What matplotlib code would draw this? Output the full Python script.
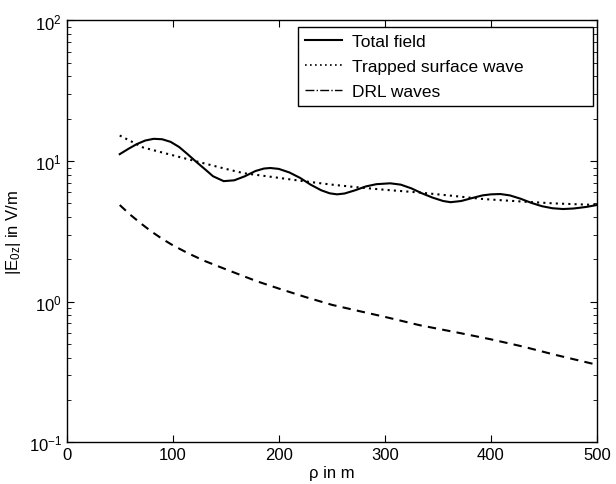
import matplotlib
matplotlib.use('Agg')
import matplotlib.pyplot as plt
from matplotlib.lines import Line2D

plt.rcParams['font.family'] = ['Liberation Sans', 'DejaVu Sans']
plt.rcParams['mathtext.default'] = 'regular'

# total field
rho_tot = [50, 58, 66, 74, 82, 90, 98, 106, 114, 122, 130, 138, 148, 158, 168, 178, 186, 192,
           200, 210, 220, 230, 240, 248, 255, 262, 272, 282, 292, 305, 315, 325, 335, 345,
           355, 362, 372, 382, 392, 400, 409, 418, 428, 438, 448, 458, 468, 478, 490, 500]
e_tot = [11.2, 12.2, 13.2, 14.0, 14.4, 14.3, 13.7, 12.6, 11.2, 9.9, 8.8, 7.8, 7.2, 7.3, 7.8,
         8.5, 8.85, 8.93, 8.8, 8.3, 7.6, 6.8, 6.2, 5.9, 5.8, 5.88, 6.2, 6.6, 6.85, 6.95, 6.8,
         6.4, 5.9, 5.5, 5.2, 5.1, 5.2, 5.45, 5.7, 5.8, 5.83, 5.7, 5.4, 5.05, 4.78, 4.62, 4.56,
         4.6, 4.72, 4.87]

# trapped surface wave
rho_sw = [50, 72, 100, 119, 150, 167, 200, 223, 250, 275, 300, 330, 360, 393, 430, 460, 500]
e_sw = [15.2, 12.5, 11.0, 10.1, 8.8, 8.2, 7.6, 7.2, 6.8, 6.5, 6.25, 6.0, 5.7, 5.37, 5.15, 5.0, 4.87]

# DRL waves
rho_drl = [50, 60, 70, 80, 90, 100, 115, 130, 150, 179, 200, 225, 250, 275, 300, 333, 370,
           400, 430, 460, 500]
e_drl = [4.87, 4.15, 3.6, 3.15, 2.8, 2.52, 2.2, 1.95, 1.7, 1.40, 1.24, 1.08, 0.95, 0.86, 0.78,
         0.68, 0.6, 0.54, 0.48, 0.42, 0.356]

fig = plt.figure(figsize=(6.16, 4.85), dpi=100)
ax = fig.add_axes([0.1083, 0.086, 0.8607, 0.8697])

ax.plot(rho_tot, e_tot, 'k-', lw=1.5)
ax.plot(rho_sw, e_sw, 'k', ls=(0, (1, 2)), lw=1.5)
ax.plot(rho_drl, e_drl, 'k', ls=(0, (4, 3)), lw=1.5)

ax.set_yscale('log')
ax.set_xlim(0, 500)
ax.set_ylim(0.1, 100)
ax.set_xticks([0, 100, 200, 300, 400, 500])

ax.tick_params(which='both', direction='in', top=True, right=True, labelsize=12)
ax.tick_params(which='major', length=5)
ax.tick_params(which='minor', length=3)
for s in ax.spines.values():
    s.set_linewidth(1.0)

ax.set_xlabel(r'ρ in m', fontsize=12, labelpad=2)
ax.set_ylabel(r'$|E_{0z}|$ in V/m', fontsize=12, labelpad=4)

handles = [Line2D([], [], color='k', lw=1.5),
           Line2D([], [], color='k', lw=1.2, ls=(0, (1, 2))),
           Line2D([], [], color='k', lw=1.0, ls='-.')]
ax.legend(handles, ['Total field', 'Trapped surface wave', 'DRL waves'],
          loc='upper left', bbox_to_anchor=(0.436, 0.80, 0.5565, 0.1846), mode='expand',
          borderaxespad=0, fontsize=12.5, fancybox=False, edgecolor='k',
          framealpha=1, handlelength=2.1, handletextpad=0.6, borderpad=0.42,
          labelspacing=0.56)

plt.savefig('out.png', dpi=100)
